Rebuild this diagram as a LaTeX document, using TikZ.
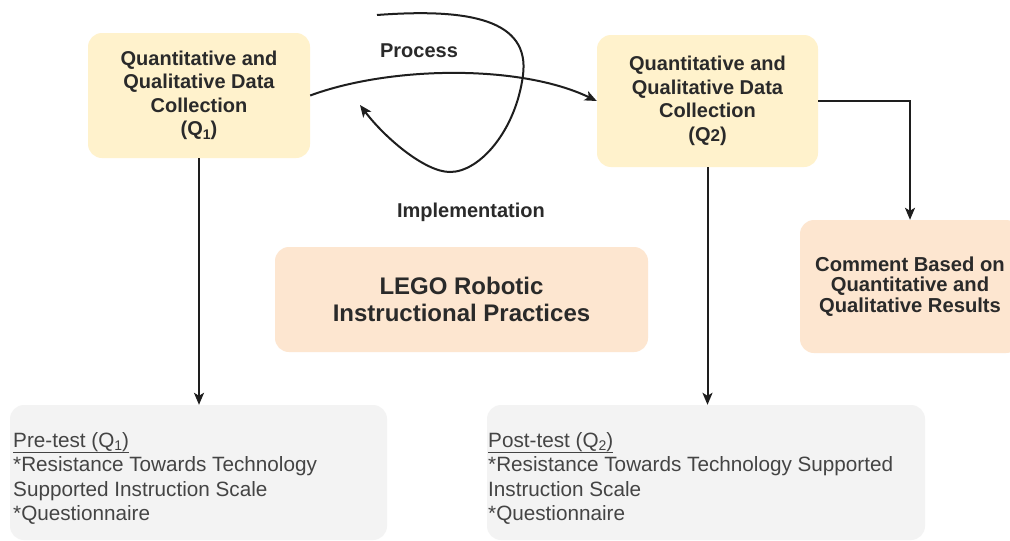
\documentclass[tikz,border=0pt]{standalone}
\usepackage{fontspec}
\setmainfont{Liberation Sans}
\usetikzlibrary{arrows.meta}
\definecolor{qfill}{HTML}{FFF2CC}
\definecolor{pfill}{HTML}{FDE6D0}
\definecolor{gfill}{HTML}{F3F3F3}
\definecolor{txt}{HTML}{2A2A2A}
\definecolor{txtb}{HTML}{444444}
\definecolor{linec}{HTML}{1E1E1E}
\newcommand\mysub[1]{\raisebox{-0.35ex}{\fontsize{14}{14}\selectfont #1}}
\begin{document}
\begin{tikzpicture}[x=1pt,y=-1pt,
  box/.style={rounded corners=14pt, draw=none, inner sep=0pt, align=center},
  qbox/.style={box, fill=qfill, text=txt, font=\bfseries\fontsize{20}{23.5}\selectfont},
  pbox/.style={box, fill=pfill, text=txt},
  gbox/.style={box, fill=gfill},
  lbl/.style={anchor=base, inner sep=0pt, text=txt, font=\bfseries\fontsize{20}{24}\selectfont},
  btxt/.style={anchor=base west, inner sep=0pt, align=left, text=txtb, font=\fontsize{20.7}{24.5}\selectfont},
  conn/.style={draw=linec, line width=2pt, -{Stealth[length=12pt,width=10pt,inset=3pt]}}
]
\useasboundingbox (0,0) rectangle (1010,541);
\clip (0,0) rectangle (1010,541);
\fill[white] (0,0) rectangle (1010,541);

\node[qbox, minimum width=222pt, minimum height=125pt] (q1) at (199,95.5)
  {Quantitative and\\Qualitative Data\\Collection\\(Q\mysub{1})};
\node[qbox, minimum width=221pt, minimum height=132pt] (q2) at (707.5,101)
  {Quantitative and\\Qualitative Data\\Collection\\(Q{\fontsize{17}{17}\selectfont 2})};
\node[pbox, minimum width=373pt, minimum height=105pt,
      font=\bfseries\fontsize{24}{27}\selectfont] (lego) at (461.5,299.5)
  {LEGO Robotic\\Instructional Practices};
\node[pbox, minimum width=220pt, minimum height=133pt,
      font=\bfseries\fontsize{20.2}{20.5}\selectfont] (comment) at (910,286.5)
  {Comment Based on\\Quantitative and\\Qualitative Results};
\node[gbox, minimum width=377pt, minimum height=135pt] (pre) at (198.5,472.5) {};
\node[gbox, minimum width=438pt, minimum height=135pt] (post) at (706,472.5) {};

% base anchor of a multi-line node is its last baseline
\node[btxt] (pretxt) at (13,520.5)
  {\underline{Pre-test (Q\mysub{1})}\\{}*Resistance Towards Technology\\Supported Instruction Scale\\{}*Questionnaire};
\node[btxt] (posttxt) at (488,520.5)
  {\underline{Post-test (Q\mysub{2})}\\{}*Resistance Towards Technology Supported\\Instruction Scale\\{}*Questionnaire};

\node[lbl] (proc) at (419,57) {Process};
\node[lbl] (impl) at (471,217) {Implementation};

\draw[conn] (q1.south) -- (q1.south |- pre.north);
\draw[conn] (q2.south) -- (q2.south |- post.north);
\draw[conn] (q2.east) -| (comment.north);
\draw[conn] (q1.east) .. controls (390,66) and (520,64) .. (q2.west);
\coordinate (loopstart) at (377,15);
\coordinate (looptip) at (360,105);
\draw[conn] (loopstart) .. controls (470,8) and (530,20) .. (523,75)
  .. controls (516,130) and (480,172) .. (450,172)
  .. controls (425,172) and (385,138) .. (looptip);
\end{tikzpicture}
\end{document}
